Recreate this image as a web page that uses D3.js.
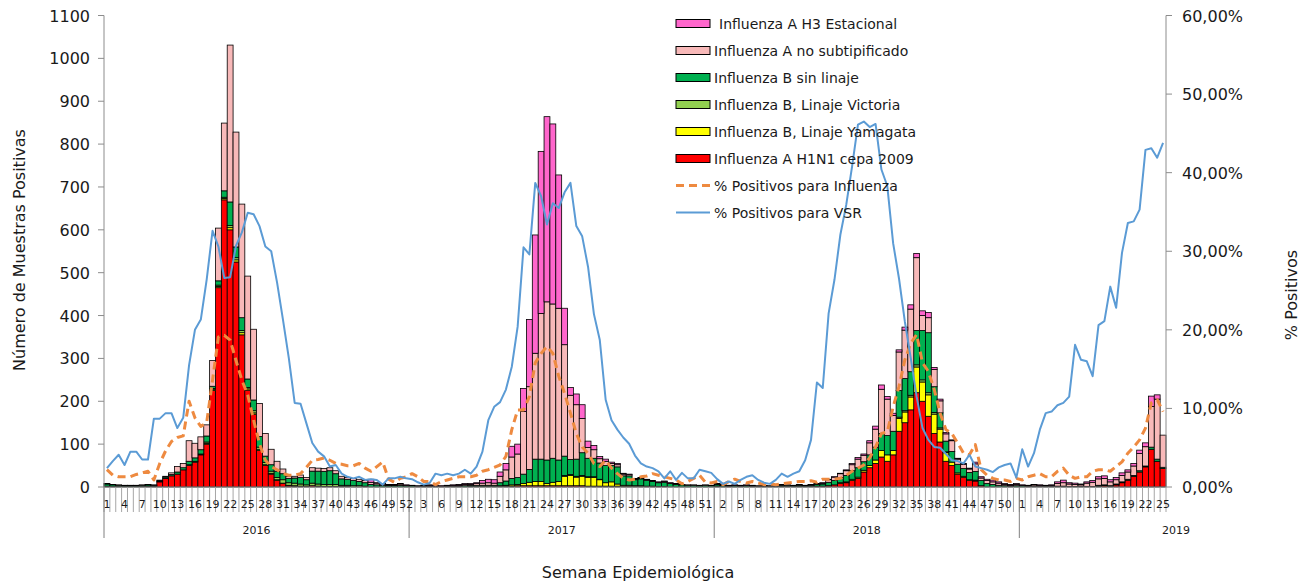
<!DOCTYPE html>
<html><head><meta charset="utf-8">
<script src="https://cdn.jsdelivr.net/npm/d3@7"></script>
<style>
body{margin:0;background:#fff}
svg{display:block}
text{font-family:"DejaVu Sans",Verdana,sans-serif;fill:#1a1a1a}
</style>
</head><body>
<svg id="chart" width="1312" height="584"></svg>
<script>
// ---------------- DATA ----------------
const years = ["2016", "2017", "2018", "2019"];
const weeksPerYear = [52, 52, 52, 25];
const seriesKeys = ["h1n1", "yamagata", "victoria", "bSinLinaje", "aNoSubtip", "h3"];
const seriesLabels = {
  h3: "Influenza A H3 Estacional",
  aNoSubtip: "Influenza A no subtipificado",
  bSinLinaje: "Influenza B sin linaje",
  victoria: "Influenza B, Linaje Victoria",
  yamagata: "Influenza B, Linaje Yamagata",
  h1n1: "Influenza A H1N1 cepa 2009"
};
const lineLabels = ["% Positivos para Influenza", "% Positivos para VSR"];
const leftTicks = [0,100,200,300,400,500,600,700,800,900,1000,1100];
const rightTicks = [0,0.1,0.2,0.3,0.4,0.5,0.6];

const h1n1 = [
 // 2016
 2,1,1,1,1,1,1,2,2,12, 20,26,30,40,50,58,75,100,225,465, 670,600,525,355,226,170,85,50,30,15, 8,3,2,2,1,3,2,1,1,1, 1,1,0,0,0,0,0,0,0,0, 0,0,
 // 2017
 0,0,0,0,0,0,0,0,0,0, 1,1,1,1,1,2,2,2,3,3, 3,3,3,3,3,3,3,3,3,3, 2,2,2,2,2,2,1,1,1,1, 1,1,0,0,0,0,0,0,0,0, 0,0,
 // 2018
 1,0,0,0,0,0,0,0,0,0, 0,1,1,1,1,1,1,2,2,3, 5,8,10,15,20,35,45,55,70,60, 75,130,150,180,220,200,165,125,105,60, 50,30,22,15,14,3,0,0,0,0, 0,0,
 // 2019
 0,0,0,0,0,0,0,0,0,0, 0,0,0,2,3,2,5,10,16,25, 35,47,88,60,43
];
const yamagata = [
 0,0,0,0,0,0,0,0,0,0, 0,0,0,0,0,0,0,2,3,3, 3,5,5,5,3,3,3,2,2,2, 1,1,1,0,0,0,0,0,0,0, 0,0,0,0,0,0,0,0,0,0, 0,0,
 0,0,0,0,0,0,0,0,0,0, 0,0,0,0,0,1,2,3,3,5, 8,10,10,5,8,10,22,24,20,22, 20,20,15,8,10,5,3,3,2,2, 1,1,1,1,0,0,0,0,0,0, 0,0,
 0,0,0,0,0,0,0,0,0,0, 0,0,0,0,0,0,0,0,0,0, 0,2,2,3,3,4,5,8,15,15, 10,30,25,30,60,45,50,45,30,20, 8,3,3,2,2,0,0,0,0,0, 0,0,
 0,0,0,0,0,0,0,0,0,0, 0,0,0,0,0,0,0,0,0,0, 0,0,0,0,0
];
const victoria = [
 0,0,0,0,0,0,0,0,0,0, 0,0,0,0,2,2,2,3,2,3, 3,5,5,5,3,5,5,5,5,5, 8,6,6,5,4,6,5,5,5,5, 3,3,3,3,2,0,0,0,0,0, 0,0,
 0,0,0,0,0,0,0,0,0,0, 0,0,0,0,0,0,0,0,0,0, 0,0,0,0,0,0,2,2,2,2, 2,2,1,0,0,0,0,0,0,0, 0,0,0,0,0,0,0,0,0,0, 0,0,
 0,0,0,0,0,0,0,0,0,0, 0,0,0,0,0,0,0,0,0,0, 0,0,0,0,0,0,0,0,0,0, 0,3,3,4,5,5,5,4,3,2, 0,0,0,0,0,0,0,0,0,0, 0,0,
 0,0,0,0,0,0,0,0,0,0, 0,0,0,0,0,0,0,0,0,0, 0,0,0,0,0
];
const bSinLinaje = [
 5,4,3,2,2,2,3,3,2,2, 3,3,5,5,8,8,10,14,5,10, 15,55,25,30,20,25,25,15,15,15, 14,10,12,15,12,28,30,30,32,25, 15,14,12,10,8,6,5,4,3,3, 4,3,
 3,2,2,2,1,1,2,2,2,3, 3,3,3,3,3,7,10,15,16,22, 30,52,52,55,56,50,45,35,40,53, 43,43,38,40,38,40,22,22,14,16, 13,11,9,10,8,6,5,4,4,3, 4,3,
 4,3,2,3,2,3,2,2,2,2, 2,3,3,2,3,2,3,4,5,8, 10,12,15,20,22,20,25,30,40,45, 45,62,75,55,80,115,140,60,35,25, 25,20,18,17,20,12,8,6,4,3, 2,3,
 3,2,2,2,2,2,2,2,1,1, 1,1,1,2,2,1,2,2,2,2, 3,2,5,5,3
];
const aNoSubtip = [
 1,1,1,1,1,1,1,1,1,2, 2,4,13,10,48,34,30,26,60,123, 158,366,268,265,240,165,77,53,36,23, 11,5,4,6,5,8,7,7,7,7, 6,4,5,5,5,5,4,3,2,2, 3,1,
 1,1,1,2,1,1,1,2,2,3, 2,4,5,6,5,15,26,50,55,146, 193,247,340,369,360,354,260,150,127,80, 25,20,10,10,5,5,4,3,2,2, 2,1,1,2,1,1,1,1,1,1, 1,1,
 2,2,1,1,1,1,1,1,1,1, 1,1,1,1,1,1,1,1,2,6, 8,9,11,14,20,15,28,42,103,85, 37,90,113,146,170,35,35,40,28,17, 25,12,10,8,18,6,7,6,5,3, 2,3,
 1,1,3,2,1,2,6,8,6,5, 4,8,10,15,15,9,10,15,17,22, 40,45,95,140,75
];
const h3 = [
 0,0,0,0,0,0,0,0,0,0, 0,0,0,0,0,0,0,0,0,0, 0,0,0,0,0,0,0,0,0,0, 0,0,0,0,0,0,0,0,0,0, 0,0,0,0,0,7,1,1,1,1, 1,1,
 0,0,1,1,1,1,1,1,2,2, 2,2,6,8,8,10,15,25,23,54, 157,276,378,432,420,311,85,18,25,32, 15,10,5,5,3,3,2,1,1,1, 1,1,1,1,1,1,0,0,0,0, 0,0,
 1,1,1,1,1,1,1,0,1,0, 0,1,0,0,1,0,1,1,1,1, 1,1,2,3,4,3,5,7,10,6, 5,5,7,10,10,11,12,5,4,3, 2,2,2,2,4,3,3,4,3,2, 2,2,
 1,1,1,1,1,1,4,6,3,3, 2,3,4,5,6,5,5,6,5,6, 8,9,24,10,0
];
// percentages (%)
const pctInfluenza = [
 2.2,1.5,1.3,1.3,1.3,1.6,1.8,2.0,0.9,3.0, 4.6,5.8,6.3,6.5,10.9,8.8,7.7,8.2,13.6,19.1, 19.3,18.7,16.1,13.6,11.7,8.5,5.5,3.4,2.6,2.2, 1.7,1.5,1.5,1.7,2.5,3.4,3.5,3.7,3.4,3.0, 2.9,2.7,2.7,3.0,2.4,2.0,2.6,3.2,1.0,0.6, 1.1,1.3,
 1.7,1.3,0.7,0.7,0.3,0.7,0.9,1.1,1.3,1.3, 1.3,1.5,2.0,2.2,2.5,2.8,3.9,7.3,9.8,9.8, 11.5,15.8,17.0,17.9,17.0,14.1,11.9,9.4,6.8,5.1, 4.3,3.0,2.6,3.4,2.4,1.7,1.1,0.9,1.0,1.3, 1.4,1.7,1.5,1.3,1.1,0.9,0.4,0.7,1.1,1.5, 0.6,0.5,
 0.7,0.3,0.7,1.0,0.7,0.5,0.7,0.5,0.3,0.4, 0.3,0.4,0.5,0.6,0.7,0.7,0.8,0.6,1.0,1.0, 1.0,1.1,1.5,2.0,2.4,2.8,3.7,5.1,6.8,7.0, 10.2,12.8,16.2,18.3,19.4,15.8,14.7,12.4,9.4,7.3, 6.8,5.6,4.3,4.1,5.4,2.2,1.5,1.1,0.9,0.9, 0.7,1.1,
 0.9,1.3,1.5,1.7,1.3,1.3,2.0,2.4,1.5,1.1, 1.3,1.3,2.0,2.2,2.2,2.0,2.6,3.2,4.3,5.1, 6.0,7.5,10.7,11.1,9.6
];
const pctVSR = [
 2.4,3.3,4.1,2.8,4.5,4.5,3.5,3.5,8.7,8.7, 9.4,9.4,7.5,8.8,15.5,20.0,21.3,26.4,32.6,30.6, 26.6,26.7,30.7,32.4,34.9,34.7,33.2,30.6,30.0,26.0, 21.3,16.4,10.7,10.6,8.1,5.6,4.5,3.9,2.6,2.8, 1.7,1.3,1.1,1.3,0.9,1.0,0.9,0.3,1.1,1.1, 1.3,1.1,
 1.0,0.6,0.3,0.5,1.7,1.5,1.7,1.5,1.7,2.2, 1.7,2.6,4.5,8.5,10.2,10.8,12.4,15.3,20.4,30.5, 29.6,38.7,37.0,33.4,36.1,35.5,37.5,38.7,33.2,31.9, 28.0,22.0,18.7,11.1,8.5,7.3,6.3,5.5,4.0,3.0, 2.6,2.4,2.0,1.1,2.0,0.9,1.8,1.1,1.1,2.2, 2.0,1.8,
 1.0,0.4,0.7,0.4,0.9,1.3,1.5,0.9,0.55,0.4, 0.9,1.7,1.3,1.7,2.0,3.4,6.0,13.3,12.6,22.1, 26.4,32.1,35.9,40.8,46.1,46.5,45.8,46.2,40.4,38.3, 31.0,26.5,21.0,16.4,11.5,7.5,6.0,5.1,5.0,4.2, 3.4,3.3,3.0,4.1,2.6,2.4,2.2,1.9,2.5,2.8, 3.0,1.2,
 4.8,2.6,4.3,7.3,9.4,9.6,10.4,10.7,11.5,18.1, 16.2,16.0,14.1,20.6,21.1,25.5,22.8,29.8,33.6,33.8, 35.3,42.9,43.1,41.9,43.8
];

// ---------------- STYLE ----------------
const colors = {
  h3: "#FF66CC", aNoSubtip: "#F8B9B9", bSinLinaje: "#00B050",
  victoria: "#92D050", yamagata: "#FFFF00", h1n1: "#FF0000"
};
const flu = "#EE8A40", vsr = "#5B9BD5";

// ---------------- BUILD ----------------
const cats = [];
years.forEach((y, yi) => { for (let w = 1; w <= weeksPerYear[yi]; w++) cats.push({year: y, week: w}); });
const src = {h1n1, yamagata, victoria, bSinLinaje, aNoSubtip, h3};
const rows = cats.map((c, i) => { const r = {i}; seriesKeys.forEach(k => r[k] = src[k][i]); return r; });

const svg = d3.select("#chart");
const L = 104, R = 1166, T = 15.5, B = 487;
const x = d3.scaleBand().domain(d3.range(cats.length)).range([L, R]).padding(0);
const bw = x.bandwidth();
const y = d3.scaleLinear().domain([0, 1100]).range([B, T]);
const yR = d3.scaleLinear().domain([0, 0.6]).range([B, T]);

// bars
const stack = d3.stack().keys(seriesKeys)(rows);
svg.append("g").selectAll("g").data(stack).join("g")
  .attr("fill", d => colors[d.key])
  .selectAll("rect").data(d => d.filter(s => s[1] - s[0] > 0)).join("rect")
  .attr("x", d => x(d.data.i))
  .attr("y", d => y(d[1]))
  .attr("width", bw)
  .attr("height", d => y(d[0]) - y(d[1]))
  .attr("stroke", "#000").attr("stroke-width", 0.8);

// lines
const line = d3.line().x((d, i) => x(i) + bw / 2).y(d => yR(d / 100));
svg.append("path").datum(pctInfluenza).attr("d", line)
  .attr("fill", "none").attr("stroke", flu).attr("stroke-width", 3)
  .attr("stroke-dasharray", "8,5").attr("stroke-linejoin", "round");
svg.append("path").datum(pctVSR).attr("d", line)
  .attr("fill", "none").attr("stroke", vsr).attr("stroke-width", 2)
  .attr("stroke-linejoin", "round");

// left axis
const ax = svg.append("g").attr("stroke", "#8c8c8c");
ax.append("line").attr("x1", L).attr("x2", L).attr("y1", T).attr("y2", B);
ax.selectAll(".lt").data(leftTicks).join("line").attr("x1", L - 6).attr("x2", L)
  .attr("y1", d => y(d)).attr("y2", d => y(d));
svg.append("g").selectAll("text").data(leftTicks).join("text")
  .attr("x", 90).attr("y", d => y(d) + 6).attr("text-anchor", "end")
  .attr("font-size", 16).text(d => d);

// right axis
ax.append("line").attr("x1", R).attr("x2", R).attr("y1", T).attr("y2", B);
ax.selectAll(".rt").data(rightTicks).join("line").attr("x1", R).attr("x2", R + 6)
  .attr("y1", d => yR(d)).attr("y2", d => yR(d));
svg.append("g").selectAll("text").data(rightTicks).join("text")
  .attr("x", 1182).attr("y", d => yR(d) + 6)
  .attr("font-size", 16).text(d => (d * 100).toFixed(2).replace(".", ",") + "%");

// x axis
ax.append("line").attr("x1", L).attr("x2", R).attr("y1", B).attr("y2", B);
ax.selectAll(".ct").data(d3.range(cats.length + 1)).join("line")
  .attr("x1", i => L + i * bw).attr("x2", i => L + i * bw)
  .attr("y1", B).attr("y2", 512).attr("stroke", "#a6a6a6");
const yearStart = [];
let acc = 0; weeksPerYear.forEach(n => { yearStart.push(acc); acc += n; });
ax.selectAll(".yt").data(yearStart).join("line")
  .attr("x1", i => L + i * bw).attr("x2", i => L + i * bw)
  .attr("y1", B).attr("y2", 538).attr("stroke", "#808080");
svg.append("g").selectAll("text").data(cats.map((c, i) => ({c, i})).filter(d => d.i % 3 === 0)).join("text")
  .attr("x", d => x(d.i) + bw / 2).attr("y", 508).attr("text-anchor", "middle")
  .attr("font-size", 11).text(d => d.c.week);
svg.append("g").selectAll("text").data(years).join("text")
  .attr("x", (d, k) => weeksPerYear[k] === 52 ? L + (yearStart[k] + 26) * bw : R + 10)
  .attr("y", 534).attr("text-anchor", "middle").attr("font-size", 11).text(d => d);

// titles
svg.append("text").attr("transform", "translate(25,250) rotate(-90)").attr("text-anchor", "middle")
  .attr("font-size", 16).text("Número de Muestras Positivas");
svg.append("text").attr("transform", "translate(1297,295) rotate(-90)").attr("text-anchor", "middle")
  .attr("font-size", 16).text("% Positivos");
svg.append("text").attr("x", 638).attr("y", 578).attr("text-anchor", "middle")
  .attr("font-size", 16).text("Semana Epidemiológica");

// legend
const legendItems = ["h3", "aNoSubtip", "bSinLinaje", "victoria", "yamagata", "h1n1"];
const lg = svg.append("g");
legendItems.forEach((k, j) => {
  const cy = 23.5 + j * 27;
  lg.append("rect").attr("x", 676).attr("y", cy - 4).attr("width", 34).attr("height", 8)
    .attr("fill", colors[k]).attr("stroke", "#000").attr("stroke-width", 1);
  lg.append("text").attr("x", j === 0 ? 719 : 714).attr("y", cy + 5).attr("font-size", 14).text(seriesLabels[k]);
});
[[flu, "8,5", 3], [vsr, null, 2]].forEach((s, j) => {
  const cy = 23.5 + (6 + j) * 27;
  lg.append("line").attr("x1", 676).attr("x2", 710).attr("y1", cy).attr("y2", cy)
    .attr("stroke", s[0]).attr("stroke-width", s[2]).attr("stroke-dasharray", s[1]);
  lg.append("text").attr("x", 714).attr("y", cy + 5).attr("font-size", 14).text(lineLabels[j]);
});
</script>
</body></html>
